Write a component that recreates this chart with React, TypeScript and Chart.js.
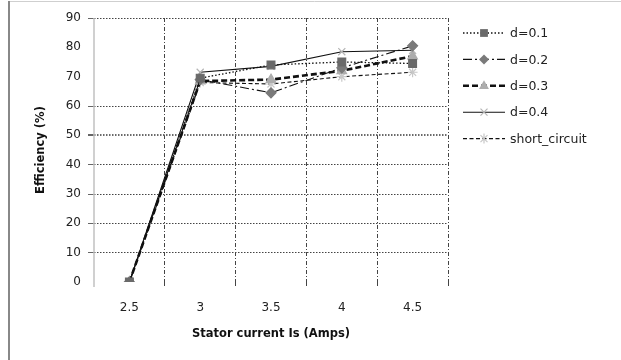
import React, { useEffect, useRef } from "react";
import { Chart, registerables } from "chart.js";
Chart.register(...registerables);

const categories = ["2.5", "3", "3.5", "4", "4.5"];
const seriesLabels = ["d=0.1", "d=0.2", "d=0.3", "d=0.4", "short_circuit"];
const d01 = [0, 69.5, 74, 75, 74.5];
const d02 = [0, 69, 64.5, 73, 80.5];
const d03 = [0, 68.5, 69, 72, 77];
const d04 = [0, 71.5, 73.5, 78.5, 79];
const shortCircuit = [0, 68, 67.5, 70, 71.5];
const yTicks = [0, 10, 20, 30, 40, 50, 60, 70, 80, 90];
const hiddenGrid = [0, 70, 80];

const FONT = "'DejaVu Sans', 'Liberation Sans', sans-serif";

function drawMarker(ctx: CanvasRenderingContext2D, style: string, x: number, y: number, r: number, color: string) {
  ctx.save();
  ctx.fillStyle = color;
  ctx.strokeStyle = color;
  ctx.setLineDash([]);
  ctx.lineWidth = 1.2;
  ctx.beginPath();
  if (style === "rect") {
    const s = Math.SQRT1_2 * r;
    ctx.rect(x - s, y - s, 2 * s, 2 * s);
    ctx.fill();
  } else if (style === "rectRot") {
    ctx.moveTo(x, y - r);
    ctx.lineTo(x + r, y);
    ctx.lineTo(x, y + r);
    ctx.lineTo(x - r, y);
    ctx.closePath();
    ctx.fill();
  } else if (style === "triangle") {
    ctx.moveTo(x, y - r);
    ctx.lineTo(x + r * 0.9, y + r * 0.6);
    ctx.lineTo(x - r * 0.9, y + r * 0.6);
    ctx.closePath();
    ctx.fill();
  } else if (style === "crossRot") {
    const s = r * 0.7;
    ctx.moveTo(x - s, y - s);
    ctx.lineTo(x + s, y + s);
    ctx.moveTo(x + s, y - s);
    ctx.lineTo(x - s, y + s);
    ctx.stroke();
  } else if (style === "star") {
    const s = r * 0.7;
    ctx.moveTo(x - s, y - s);
    ctx.lineTo(x + s, y + s);
    ctx.moveTo(x + s, y - s);
    ctx.lineTo(x - s, y + s);
    ctx.moveTo(x, y - r);
    ctx.lineTo(x, y + r);
    ctx.stroke();
  }
  ctx.restore();
}

const framePlugin = {
  id: "frame",
  beforeDraw(chart: any) {
    const ctx = chart.ctx;
    ctx.save();
    ctx.fillStyle = "#ffffff";
    ctx.fillRect(0, 0, chart.width, chart.height);
    ctx.strokeStyle = "#cfcfcf";
    ctx.lineWidth = 1;
    ctx.beginPath();
    ctx.moveTo(8, 1.5);
    ctx.lineTo(chart.width, 1.5);
    ctx.stroke();
    ctx.strokeStyle = "#888888";
    ctx.lineWidth = 2;
    ctx.beginPath();
    ctx.moveTo(9, 1);
    ctx.lineTo(9, chart.height);
    ctx.stroke();
    ctx.restore();
  },
  beforeDatasetsDraw(chart: any) {
    const ctx = chart.ctx;
    const a = chart.chartArea;
    ctx.save();
    ctx.strokeStyle = "#c0c0c0";
    ctx.lineWidth = 1.5;
    ctx.setLineDash([]);
    ctx.beginPath();
    ctx.moveTo(a.left, a.top);
    ctx.lineTo(a.left, a.bottom + 5);
    ctx.stroke();
    ctx.restore();
  },
  afterDraw(chart: any) {
    const ctx = chart.ctx;
    const dsets = chart.data.datasets;
    ctx.save();
    dsets.forEach((ds: any, i: number) => {
      const y = 33 + i * 26.4;
      ctx.save();
      ctx.strokeStyle = ds.borderColor;
      ctx.lineWidth = ds.borderWidth;
      ctx.setLineDash(ds.borderDash || []);
      ctx.beginPath();
      ctx.moveTo(463, y);
      ctx.lineTo(505, y);
      ctx.stroke();
      ctx.restore();
      drawMarker(ctx, ds.pointStyle, 484, y, ds.pointRadius, ds.pointBackgroundColor);
      ctx.fillStyle = "#222";
      ctx.font = `12.5px ${FONT}`;
      ctx.textBaseline = "middle";
      ctx.textAlign = "left";
      ctx.fillText(ds.label, 510, y + 1);
    });
    ctx.restore();
  },
};

export default function App() {
  const ref = useRef<HTMLCanvasElement | null>(null);
  useEffect(() => {
    if (!ref.current) return;
    const values = [d01, d02, d03, d04, shortCircuit];
    const styles = [
      { dash: [1.5, 2], width: 1.3, ps: "rect", pc: "#6a6a6a", r: 5.5 },
      { dash: [9, 3, 2, 3], width: 1.1, ps: "rectRot", pc: "#7a7a7a", r: 5 },
      { dash: [6, 3], width: 2.6, ps: "triangle", pc: "#adadad", r: 5.5 },
      { dash: [], width: 1.1, ps: "crossRot", pc: "#b5b5b5", r: 5 },
      { dash: [4, 2.5], width: 1.1, ps: "star", pc: "#c8c8c8", r: 5 },
    ];
    const datasets = values.map((v, i) => ({
      label: seriesLabels[i],
      data: v,
      borderColor: "#111111",
      borderWidth: styles[i].width,
      borderDash: styles[i].dash,
      pointStyle: styles[i].ps,
      pointRadius: styles[i].r,
      pointBackgroundColor: styles[i].pc,
      pointBorderColor: styles[i].pc,
      pointBorderWidth: 1.2,
      tension: 0,
      fill: false,
    }));
    const chart = new Chart(ref.current, {
      type: "line",
      data: { labels: categories, datasets },
      plugins: [framePlugin],
      options: {
        animation: false,
        responsive: false,
        maintainAspectRatio: false,
        layout: { padding: { left: 0, right: 173, top: 18, bottom: 0 } },
        plugins: { legend: { display: false }, tooltip: { enabled: false } },
        scales: {
          x: {
            type: "category",
            offset: true,
            afterFit: (s: any) => { s.height = 78; },
            grid: {
              offset: true,
              display: true,
              color: (c: any) => (c.index === 0 ? "rgba(0,0,0,0)" : "#444444"),
              lineWidth: 1,
              tickLength: 5,
              drawTicks: true,
              tickBorderDash: [4, 2, 1, 2],
            },
            border: { display: false, dash: [4, 2, 1, 2] },
            ticks: { color: "#222", font: { family: FONT, size: 12 }, padding: 14 },
            title: {
              display: true,
              text: "Stator current Is (Amps)",
              color: "#111",
              font: { family: FONT, size: 11.5, weight: "bold" },
              padding: { top: 0, bottom: 19 },
            },
          },
          y: {
            min: 0,
            max: 90,
            afterFit: (s: any) => { s.width = 94; },
            afterBuildTicks: (s: any) => { s.ticks = yTicks.map((v) => ({ value: v })); },
            grid: {
              color: (c: any) => (hiddenGrid.includes(c.tick?.value) ? "rgba(0,0,0,0)" : c.tick?.value === 50 ? "#6a6a6a" : "#444444"),
              lineWidth: (c: any) => (c.tick?.value === 50 ? 2 : 1),
              tickLength: 6,
              tickColor: (c: any) => (hiddenGrid.includes(c.tick?.value) ? "rgba(0,0,0,0)" : "#666"),
            },
            border: { display: false, dash: [1.5, 1.5] },
            ticks: { color: "#222", font: { family: FONT, size: 12 }, padding: 7, stepSize: 10 },
            title: {
              display: true,
              text: "Efficiency (%)",
              color: "#111",
              font: { family: FONT, size: 11.5, weight: "bold" },
              padding: { top: 34, bottom: 0 },
            },
          },
        },
      } as any,
    });
    return () => chart.destroy();
  }, []);
  return (
    <div style={{ position: "absolute", left: 0, top: 0, width: 621, height: 360 }}>
      <canvas ref={ref} width={621} height={360} style={{ width: 621, height: 360 }} />
    </div>
  );
}
